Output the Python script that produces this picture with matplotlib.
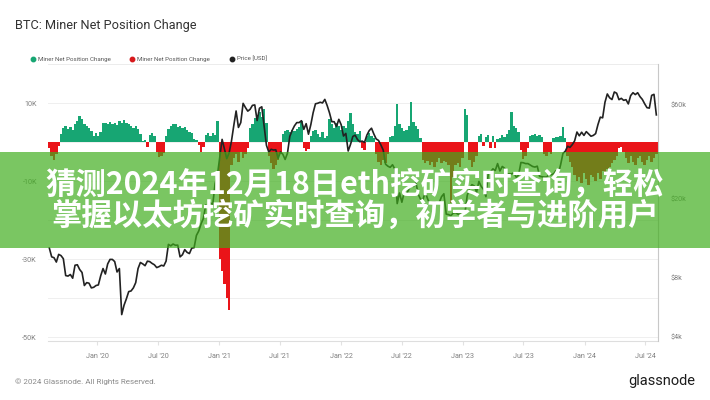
import matplotlib
matplotlib.use("Agg")
import matplotlib.pyplot as plt
import matplotlib.dates as mdates
from matplotlib.patches import Rectangle
from matplotlib.lines import Line2D
from matplotlib.ticker import FixedLocator, NullLocator, FixedFormatter
import numpy as np
import pandas as pd

plt.rcParams["font.family"] = ["Roboto", "DejaVu Sans"]

# ---- weekly series (Saturdays from 2019-08-10) ----
# BTC price, USD
price_2019 = [11300, 10200, 10100, 9600, 10500, 10350, 9980, 8200, 8150, 8300,
              7950, 9250, 9300, 8800, 8500, 7300, 7550, 7500, 7100, 7150, 7300]
price_2020 = [7350, 8180, 8900, 8350, 9400, 9900, 9900, 9650, 8550, 8900,
              5200, 5800, 6250, 6800, 6850, 7100, 7550, 8900, 9550, 9400,
              9200, 9700, 9650, 9450, 9300, 9000, 9100, 9250, 9170, 9700,
              11800, 11600, 11850, 11680, 11700, 10200, 10450, 11100, 10750, 10600,
              11300, 11350, 13100, 13800, 15000, 16000, 18700, 18200, 19150, 18800,
              24000, 26500]
price_2021 = [32800, 40200, 36000, 32100, 34300, 39300, 47200, 56000, 46200, 48900,
              61200, 58300, 55900, 57100, 59800, 60100, 50100, 57800, 58800, 46700,
              37500, 34700, 35800, 35500, 35600, 32200, 34700, 33800, 31800, 34200,
              41600, 44600, 47100, 48900, 48900, 50000, 45200, 48300, 42700, 47700,
              54900, 60900, 61300, 62000, 61500, 64100, 59700, 54800, 49400, 49400,
              46700, 50800]
price_2022 = [47700, 41800, 43100, 35100, 37900, 41600, 42200, 40100, 39100, 39400,
              38800, 42200, 44500, 45800, 42800, 40400, 39700, 37700, 35500, 30100,
              29400, 29000, 29900, 28400, 19000, 21500, 19300, 21600, 21200, 22500,
              23800, 23200, 24400, 21200, 20000, 19800, 21800, 20100, 18900, 19300,
              19400, 19100, 19200, 20600, 21300, 16800, 16700, 16500, 17000, 17100,
              16800, 16800, 16550]
price_2023 = [16950, 20900, 22700, 23700, 23350, 21700, 24600, 23200, 22400, 20600,
              26900, 27500, 28500, 27950, 30300, 27800, 29300, 28700, 26800, 26900,
              26900, 27200, 25850, 26500, 30700, 30600, 30300, 30300, 29800, 29300,
              29100, 29400, 26100, 26000, 25900, 25900, 26600, 26600, 26900, 27900,
              26850, 29900, 34100, 35000, 37100, 36600, 37800, 39500, 43800, 41900,
              43700, 42100]
price_2024 = [44000, 42800, 41700, 42100, 43000, 47800, 52100, 51700, 62000, 68300,
              65300, 64000, 69900, 68900, 63900, 64900, 63400, 63900, 60800, 67000,
              69300, 67800, 69300, 66200, 64100, 60900, 58200, 57900, 67200, 68000,
              53500]

# Miner net position change, thousand BTC
net_2019 = [-1.5, -3.5, -4.5, -3.0, -1.0, 2.1, 3.5, 4.2, 3.3, 3.8,
            3.0, 4.5, 5.5, 6.6, 5.8, 4.7, 4.2, 3.5, 2.8, 1.6, 2.2]
net_2020 = [1.5, 2.5, 4.8, 5.0, 4.5, 5.2, 4.6, 5.0, 4.4, 5.3,
            4.8, 5.7, 5.0, 4.6, 4.0, 3.6, 4.2, 3.4, 2.0, 0.3,
            0.4, -1.3, 1.8, 2.4, 1.5, -2.5, -3.8, -3.6, -2.8, 1.5,
            3.4, 4.0, 4.7, 4.6, 3.8, 4.2, 3.6, 3.9, 3.0, 2.6,
            2.2, 0.8, 0.4, -0.8, -2.5, -1.2, 1.8, 2.2, 1.6, 2.3,
            1.9, 5.5]
net_2021 = [-30.0, -33.0, -36.5, -40.0, -43.0, -6.0, -4.0, -3.0, -5.0, -2.5,
            -4.0, -3.0, -1.5, 3.5, 4.5, 6.2, 7.0, 7.6, 6.5, 8.5,
            5.0, -3.5, -5.5, -7.0, -6.0, -4.5, -3.0, 2.0, 2.8, 3.0,
            2.6, 3.2, 2.8, 3.4, 3.8, 5.5, -1.5, -2.2, -1.8, 1.5,
            2.8, 3.2, 2.0, 1.2, 2.5, 1.0, 1.5, 6.0, 4.5, 3.5,
            5.0, 4.2]
net_2022 = [3.0, 4.0, 3.5, 5.5, 7.5, 4.7, 2.5, 2.0, 2.8, -1.5,
            -2.0, 1.5, 2.2, 1.6, 1.0, -3.0, -5.0, -6.0, -4.5, -5.5,
            -3.0, 1.2, 1.5, 4.0, 9.7, 4.5, 3.6, 2.8, 3.0, 4.2,
            10.2, 5.2, 4.0, 3.4, 1.0, -4.5, -5.5, -4.8, -6.0, -5.2,
            -6.5, -5.0, -4.2, -5.5, -4.8, -5.0, -6.0, -15.7, -9.0, -6.0,
            -5.5, -6.5, -4.0]
net_2023 = [8.5, 7.0, -4.5, -6.5, -5.0, -3.5, 1.5, 2.0, -1.0, 1.2,
            1.8, -1.5, 1.5, -1.5, 0.8, 1.0, 1.7, 1.4, 2.0, 3.0,
            7.6, 4.2, 3.5, 2.5, -2.0, -4.3, -3.5, -1.5, 1.5, 1.7,
            2.0, 1.6, 1.8, 1.2, -3.0, -3.5, -2.5, -3.0, 1.0, 1.3,
            1.2, 1.5, 3.8, 1.0, -3.5, -5.0, -6.5, -8.5, -10.0, -9.0,
            -10.5, -8.0]
net_2024 = [-9.5, -11.0, -8.5, -9.0, -10.0, -8.0, -9.5, -7.5, -8.5, -7.0,
            -6.5, -5.5, -4.5, -3.5, -1.5, -1.2, -2.5, -4.0, -5.5, -3.5,
            -5.0, -6.0, -4.0, -3.5, -5.0, -6.0, -4.5, -3.5, -5.0, -4.0,
            -3.0]

left_ticks = [10000, -10000, -30000, -50000]
left_labels = ["10K", "-10K", "-30K", "-50K"]
right_ticks = [4000, 8000, 20000, 60000]
right_labels = ["$4k", "$8k", "$20k", "$60k"]
legend_labels = ["Miner Net Position Change", "Miner Net Position Change", "Price [USD]"]

GREEN = "#17a673"
RED = "#ea1419"
LINE = "#222222"
GRID = "#efefef"
TICK = "#808080"

price = np.array(price_2019 + price_2020 + price_2021 + price_2022 + price_2023 + price_2024, float)
net = np.array(net_2019 + net_2020 + net_2021 + net_2022 + net_2023 + net_2024, float) * 1000
weeks = pd.date_range("2019-08-10", periods=len(price), freq="7D")

W, H = 710, 400
fig = plt.figure(figsize=(W / 100, H / 100), dpi=100)
fig.patch.set_facecolor("white")

# main chart area
ax = fig.add_axes([48 / W, 1 - 341 / H, 610 / W, 277 / H])
pos = net >= 0
ax.bar(weeks[pos], net[pos], width=7.2, color=GREEN, linewidth=0, zorder=2)
ax.bar(weeks[~pos], net[~pos], width=7.2, color=RED, linewidth=0, zorder=2)
ax.set_ylim(-51000, 20000)
ax.set_xlim(pd.Timestamp("2019-08-06"), pd.Timestamp("2024-08-08"))
ax.yaxis.set_major_locator(FixedLocator(left_ticks))
ax.yaxis.set_major_formatter(FixedFormatter(left_labels))
ax.yaxis.set_minor_locator(FixedLocator(np.arange(-50000, 20001, 10000)))
ax.grid(axis="y", which="both", color=GRID, linewidth=0.7, zorder=0)
ax.set_axisbelow(True)
ax.tick_params(axis="y", which="both", length=0, pad=8, labelsize=5.2, labelcolor=TICK)
ax.xaxis.set_major_locator(mdates.MonthLocator(bymonth=[1, 7]))
ax.xaxis.set_major_formatter(mdates.DateFormatter("%b '%y"))
ax.tick_params(axis="x", length=3, color="#e2e2e2", pad=6, labelsize=5.2, labelcolor=TICK)
for s in ["left", "right"]:
    ax.spines[s].set_visible(False)
ax.spines["top"].set_color("#ececec")
ax.spines["top"].set_linewidth(0.7)
ax.spines["bottom"].set_color("#dedede")
ax.spines["bottom"].set_linewidth(0.8)

# price on log scale, right axis
ax2 = ax.twinx()
ax2.plot(weeks, price, color=LINE, linewidth=1.2, zorder=3)
ax2.set_yscale("log")
ax2.set_ylim(3820, 96900)
ax2.yaxis.set_major_locator(FixedLocator(right_ticks))
ax2.yaxis.set_major_formatter(FixedFormatter(right_labels))
ax2.yaxis.set_minor_locator(NullLocator())
ax2.tick_params(axis="y", length=0, pad=9, labelsize=5.2, labelcolor=TICK)
for s in ["left", "top", "bottom"]:
    ax2.spines[s].set_visible(False)
ax2.spines["right"].set_color("#c8c8c8")
ax2.spines["right"].set_linewidth(0.8)

# overlay in pixel coordinates: header, legend, footer, banner
ov = fig.add_axes([0, 0, 1, 1], zorder=10)
ov.set_xlim(0, W)
ov.set_ylim(H, 0)
ov.axis("off")
ov.patch.set_alpha(0)

ov.text(15, 25, "BTC: Miner Net Position Change", fontsize=9.2, color="#333333",
        va="center", ha="left")

legend_colors = [GREEN, "#d7191c", LINE]
legend_x = [33, 132, 232]
for lx, lab, col in zip(legend_x, legend_labels, legend_colors):
    ov.add_line(Line2D([lx], [59], marker="o", markersize=3.2, color=col, linestyle="none"))
    ov.text(lx + 5, 59, lab, fontsize=4.4, color="#555555", va="center", ha="left")

ov.text(15, 382, "\u00a9 2024 Glassnode. All Rights Reserved.", fontsize=5.8,
        color="#8a8a8a", va="center", ha="left")
ov.text(695, 381, "glassnode", fontsize=10.5, color="#1c1c1c", va="center", ha="right")

ov.add_patch(Rectangle((0, 152), W, 96, facecolor="#3ead1b", alpha=0.69,
                       edgecolor="none", zorder=5))
banner_lines = ["猜测2024年12月18日eth挖矿实时查询，轻松",
                "掌握以太坊挖矿实时查询，初学者与进阶用户"]
for ty, line in zip([185, 216], banner_lines):
    ov.text(355, ty, line, fontsize=21.9, color="white", fontweight="heavy",
            family=["Noto Sans CJK SC", "DejaVu Sans"], ha="center", va="center", zorder=6)

fig.savefig("out.png", dpi=100, facecolor="white")
